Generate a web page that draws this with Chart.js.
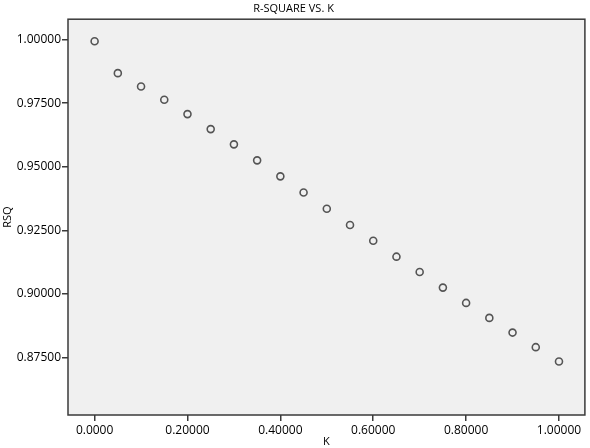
<!DOCTYPE html>
<html>
<head>
<meta charset="utf-8">
<script src="https://cdn.jsdelivr.net/npm/chart.js@4"></script>
<style>
  html, body { margin: 0; padding: 0; background: #fff; }
  #wrap { width: 590px; height: 448px; }
</style>
</head>
<body>
<div id="wrap"><canvas id="rsq_canvas"></canvas></div>
<script>
var kValues = [0.00, 0.05, 0.10, 0.15, 0.20, 0.25, 0.30, 0.35, 0.40, 0.45, 0.50,
               0.55, 0.60, 0.65, 0.70, 0.75, 0.80, 0.85, 0.90, 0.95, 1.00];
var rsqValues = [0.99941, 0.98683, 0.98160, 0.97634, 0.97072, 0.96482, 0.95881,
                 0.95252, 0.94623, 0.93986, 0.93349, 0.92708, 0.92091, 0.91462,
                 0.90861, 0.90244, 0.89642, 0.89053, 0.88475, 0.87901, 0.87335];

var xTicks = [0, 0.2, 0.4, 0.6, 0.8, 1.0];
var xTickLabels = ['0.0000', '0.20000', '0.40000', '0.60000', '0.80000', '1.00000'];
var yTicks = [0.875, 0.9, 0.925, 0.95, 0.975, 1.0];
var yTickLabels = ['0.87500', '0.90000', '0.92500', '0.95000', '0.97500', '1.00000'];

var points = kValues.map(function(k, i) {
    return {x: k, y: rsqValues[i]};
});

//grey plot background and the dark frame round it
var plotFrame = {
    id: 'plotFrame',
    beforeDraw: function(chart) {
        var a = chart.chartArea;
        var ctx = chart.ctx;
        ctx.save();
        ctx.fillStyle = '#f0f0f0';
        ctx.fillRect(a.left, a.top, a.right - a.left, a.bottom - a.top);
        ctx.restore();
    },
    afterDraw: function(chart) {
        var a = chart.chartArea;
        var ctx = chart.ctx;
        ctx.save();
        ctx.strokeStyle = '#3a3a3a';
        ctx.lineWidth = 1.5;
        ctx.strokeRect(a.left, a.top, a.right - a.left, a.bottom - a.top);
        ctx.restore();
    }
};

Chart.defaults.font.family = '"Open Sans", sans-serif';
Chart.defaults.color = '#000';

var ctx = document.getElementById('rsq_canvas').getContext('2d');
window.rsqChart = new Chart(ctx, {
    type: 'scatter',
    data: {
        datasets: [{
            label: 'RSQ',
            data: points,
            pointRadius: 3.5,
            pointHoverRadius: 3.5,
            pointBorderWidth: 1.6,
            borderColor: '#555',
            backgroundColor: 'rgba(0,0,0,0)'
        }]
    },
    options: {
        responsive: true,
        maintainAspectRatio: false,
        animation: false,
        layout: { padding: { left: 0, right: 3, top: 0, bottom: 0 } },
        plugins: {
            legend: { display: false },
            tooltip: { enabled: false },
            title: {
                display: true,
                text: 'R-SQUARE VS. K',
                font: { size: 11, weight: 'normal' },
                color: '#000',
                padding: { top: 2, bottom: 4 }
            }
        },
        scales: {
            x: {
                type: 'linear',
                min: -0.0573,
                max: 1.0558,
                afterBuildTicks: function(scale) {
                    scale.ticks = xTicks.map(function(v) { return {value: v}; });
                },
                afterFit: function(scale) { scale.height = 33; },
                ticks: {
                    font: { size: 12 },
                    padding: 2,
                    maxRotation: 0,
                    callback: function(value) {
                        var i = xTicks.indexOf(value);
                        return i >= 0 ? xTickLabels[i] : '';
                    }
                },
                grid: { drawOnChartArea: false, drawTicks: true, tickLength: 6, color: '#3a3a3a', lineWidth: 1.5 },
                border: { display: false },
                title: { display: true, text: 'K', font: { size: 11 }, padding: { top: 0, bottom: 0 } }
            },
            y: {
                type: 'linear',
                min: 0.85232,
                max: 1.00806,
                afterBuildTicks: function(scale) {
                    scale.ticks = yTicks.map(function(v) { return {value: v}; });
                },
                afterFit: function(scale) { scale.width = 68; },
                ticks: {
                    font: { size: 12 },
                    padding: 1,
                    callback: function(value) {
                        var i = yTicks.indexOf(value);
                        return i >= 0 ? yTickLabels[i] : '';
                    }
                },
                grid: { drawOnChartArea: false, drawTicks: true, tickLength: 6, color: '#3a3a3a', lineWidth: 1.5 },
                border: { display: false },
                title: { display: true, text: 'RSQ', font: { size: 11 }, padding: { top: 1, bottom: 0 } }
            }
        }
    },
    plugins: [plotFrame]
});
</script>
</body>
</html>
